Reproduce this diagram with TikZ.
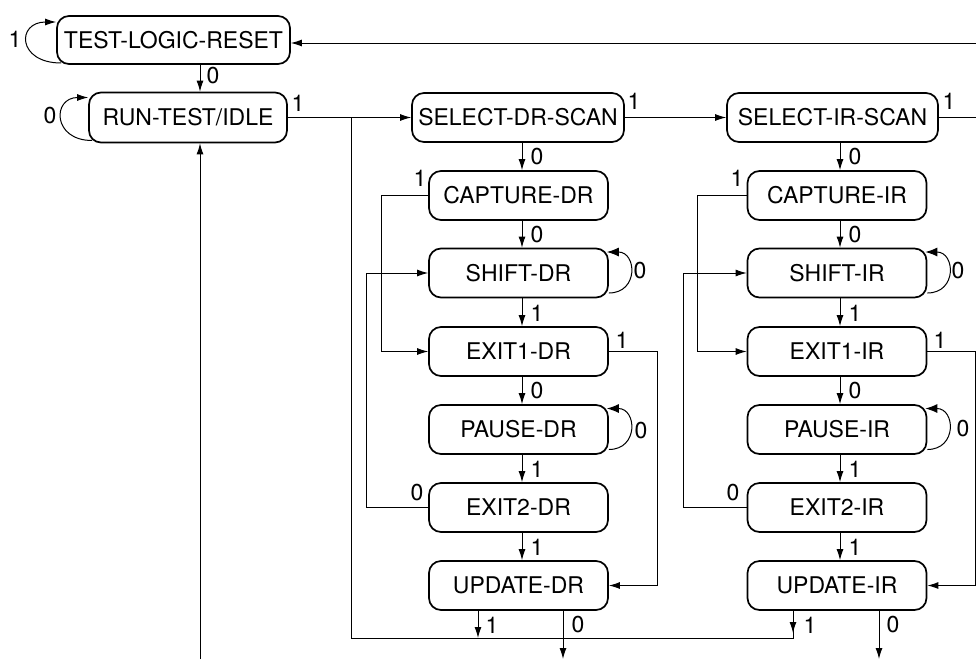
\documentclass[tikz,border=0pt]{standalone}
\usepackage{fontspec}
\setmainfont{TeX Gyre Heros}
\usetikzlibrary{arrows.meta,calc}
\begin{document}
\begin{tikzpicture}[x=1pt,y=-1pt,
  state/.style={draw,line width=1.7pt,rounded corners=12pt,inner sep=0pt,align=center,font=\fontsize{23}{27}\selectfont},
  col/.style={state,minimum width=179pt,minimum height=49pt},
  conn/.style={line width=1pt},
  arr/.style={conn,-{Latex[length=11pt,width=7pt]}},
  lpr/.style={conn,-{Latex[length=12pt,width=9pt]}},
  lbl/.style={font=\fontsize{23}{27}\selectfont,inner sep=0pt}]
\useasboundingbox (0,0) rectangle (976,659);

% states
\node[state,minimum width=233pt,minimum height=48pt] (tlr) at (173.5,40) {TEST-LOGIC-RESET};
\node[state,minimum width=198pt,minimum height=50pt] (rti) at (188,117.5) {RUN-TEST/IDLE};
\node[state,minimum width=212pt,minimum height=49pt] (sds) at (518,117.5) {SELECT-DR-SCAN};
\node[state,minimum width=211pt,minimum height=49pt] (sis) at (832.5,117.5) {SELECT-IR-SCAN};

\node[col] (capdr) at (518.5,195.5) {CAPTURE-DR};
\node[col] (shdr)  at (518.5,273)   {SHIFT-DR};
\node[col] (e1dr)  at (518.5,351.5) {EXIT1-DR};
\node[col] (padr)  at (518.5,429.5) {PAUSE-DR};
\node[col] (e2dr)  at (518.5,507.5) {EXIT2-DR};
\node[col] (updr)  at (518.5,585.5) {UPDATE-DR};

\node[col] (capir) at (837,195.5) {CAPTURE-IR};
\node[col] (shir)  at (837,273)   {SHIFT-IR};
\node[col] (e1ir)  at (837,351.5) {EXIT1-IR};
\node[col] (pair)  at (837,429.5) {PAUSE-IR};
\node[col] (e2ir)  at (837,507.5) {EXIT2-IR};
\node[col] (upir)  at (837,585.5) {UPDATE-IR};

% helper coordinates
\coordinate (c200) at (200,0);
\coordinate (cdr) at (522,0);
\coordinate (cir) at (840,0);
\coordinate (tr) at (976,43);
\coordinate (sr) at (976,117.5);
\coordinate (j) at (351,117.5);
\coordinate (bl) at (351,638);
\coordinate (ud1) at (478,638);
\coordinate (ui1) at (793,638);
\coordinate (ud0) at (563,659);
\coordinate (ui0) at (879,659);
\coordinate (rb) at (200,659);
\coordinate (k1d) at (381,0);
\coordinate (k2d) at (366,0);
\coordinate (k3d) at (657,0);
\coordinate (k1i) at (697,0);
\coordinate (k2i) at (683,0);
\coordinate (k3i) at (975,0);

% top part
\draw[arr] (tr) -- (tr -| tlr.east);
\draw[arr] (tlr.south -| c200) -- (rti.north -| c200);
\draw[arr] (rb) -- (rb |- rti.south);
\draw[arr] (rti.east) -- (sds.west);
\draw[arr] (sds.east) -- (sis.west);
\draw[conn] (sis.east) -- (sr);
\draw[conn] (j) -- (bl) -- (ui1) -- (ui1 |- upir.south);
\draw[arr] (upir.south -| ui1) -- ([yshift=5pt]ui1);
\draw[arr] (updr.south -| ud1) -- (ud1);
\draw[arr] (updr.south -| ud0) -- (ud0);
\draw[arr] (upir.south -| ui0) -- (ui0);

% left self loops
\draw[arr] ([xshift=5pt,yshift=-23pt]tlr.west) .. controls +(-44,0) and +(-40,0) .. ([yshift=18pt]tlr.west);
\draw[arr] ([xshift=4pt,yshift=-23pt]rti.west) .. controls +(-40,0) and +(-36,0) .. ([yshift=20pt]rti.west);

% DR column
\draw[arr] (sds.south -| cdr) -- (capdr.north -| cdr);
\draw[arr] (capdr.south -| cdr) -- (shdr.north -| cdr);
\draw[arr] (shdr.south -| cdr) -- (e1dr.north -| cdr);
\draw[arr] (e1dr.south -| cdr) -- (padr.north -| cdr);
\draw[arr] (padr.south -| cdr) -- (e2dr.north -| cdr);
\draw[arr] (e2dr.south -| cdr) -- (updr.north -| cdr);
\draw[arr] (capdr.west) -- (capdr.west -| k1d) -- (e1dr.west -| k1d) -- (e1dr.west);
\draw[arr] (e2dr.west) -- (e2dr.west -| k2d) -- (shdr.west -| k2d) -- (shdr.west);
\draw[arr] (e1dr.east) -- (e1dr.east -| k3d) -- (updr.east -| k3d) -- (updr.east);
\draw[lpr] ([yshift=-20pt]shdr.east) .. controls +(30,0) and +(30,0) .. ([yshift=21pt,xshift=-2pt]shdr.east);
\draw[lpr] ([yshift=-20pt]padr.east) .. controls +(30,0) and +(30,0) .. ([yshift=21pt,xshift=-2pt]padr.east);

% IR column
\draw[arr] (sis.south -| cir) -- (capir.north -| cir);
\draw[arr] (capir.south -| cir) -- (shir.north -| cir);
\draw[arr] (shir.south -| cir) -- (e1ir.north -| cir);
\draw[arr] (e1ir.south -| cir) -- (pair.north -| cir);
\draw[arr] (pair.south -| cir) -- (e2ir.north -| cir);
\draw[arr] (e2ir.south -| cir) -- (upir.north -| cir);
\draw[arr] (capir.west) -- (capir.west -| k1i) -- (e1ir.west -| k1i) -- (e1ir.west);
\draw[arr] (e2ir.west) -- (e2ir.west -| k2i) -- (shir.west -| k2i) -- (shir.west);
\draw[arr] (e1ir.east) -- (e1ir.east -| k3i) -- (upir.east -| k3i) -- (upir.east);
\draw[lpr] ([yshift=-20pt]shir.east) .. controls +(30,0) and +(30,0) .. ([yshift=21pt,xshift=-2pt]shir.east);
\draw[lpr] ([yshift=-20pt]pair.east) .. controls +(30,0) and +(30,0) .. ([yshift=21pt,xshift=-2pt]pair.east);

% labels
\node[lbl] (la1) at (15,39) {1};
\node[lbl] (la2) at (213,76) {0};
\node[lbl] (la3) at (50,116) {0};
\node[lbl] (la4) at (298,103) {1};
\node[lbl] (la5) at (634,101) {1};
\node[lbl] (la6) at (949,101) {1};

\node[lbl] (ld1) at (537,157) {0};
\node[lbl] (ld2) at (537,235) {0};
\node[lbl] (ld3) at (537,313) {1};
\node[lbl] (ld4) at (537,391) {0};
\node[lbl] (ld5) at (537,469) {1};
\node[lbl] (ld6) at (537,547) {1};
\node[lbl] (ld7) at (420,178) {1};
\node[lbl] (ld8) at (640,271) {0};
\node[lbl] (ld9) at (622,340) {1};
\node[lbl] (ld10) at (641,431) {0};
\node[lbl] (ld11) at (417,493) {0};
\node[lbl] (ld12) at (492,625) {1};
\node[lbl] (ld13) at (578,625) {0};

\node[lbl] (li1) at (855,157) {0};
\node[lbl] (li2) at (855,235) {0};
\node[lbl] (li3) at (855,313) {1};
\node[lbl] (li4) at (855,391) {0};
\node[lbl] (li5) at (855,469) {1};
\node[lbl] (li6) at (855,547) {1};
\node[lbl] (li7) at (737,178) {1};
\node[lbl] (li8) at (958,271) {0};
\node[lbl] (li9) at (940,340) {1};
\node[lbl] (li10) at (963,429) {0};
\node[lbl] (li11) at (733,493) {0};
\node[lbl] (li12) at (810,625) {1};
\node[lbl] (li13) at (893,625) {0};
\end{tikzpicture}
\end{document}
